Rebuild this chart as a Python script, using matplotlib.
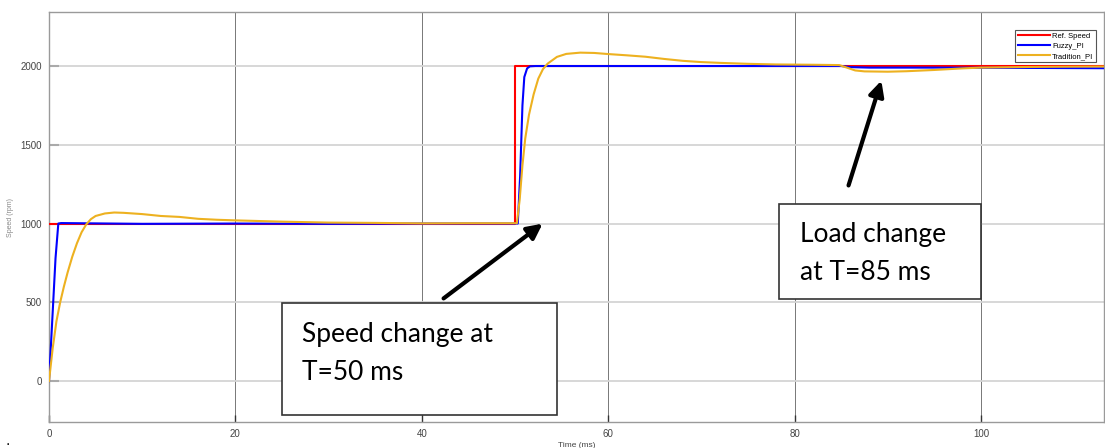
import matplotlib
matplotlib.use("Agg")
import matplotlib.pyplot as plt
from matplotlib.patches import Rectangle

# reference speed (rpm) vs time (ms)
ref_t = [0, 49.97, 49.97, 113.5]
ref_v = [1000, 1000, 2000, 2000]

# fuzzy PI response
fuzzy_t = [0, 0.3, 0.7, 1.0, 1.3, 10, 20, 30, 40, 50.3, 50.55, 50.8, 51.0, 51.3, 51.6, 52.2,
           60, 70, 80, 85, 86, 88, 95, 105, 113.5]
fuzzy_v = [0, 330, 780, 1000, 1003, 998, 1000, 998, 1000, 1000, 1300, 1750, 1930, 1985, 1998, 2000,
           2000, 2000, 2000, 2000, 1993, 1990, 1990, 1988, 1986]

# traditional PI response
trad_t = [0, 0.4, 0.8, 1.2, 1.6, 2.0, 2.5, 3.0, 3.5, 4.0, 4.5, 5.0, 6.0, 7.0, 8.0, 10, 12, 14,
          16, 18, 20, 25, 30, 35, 40, 45, 50.2,
          50.5, 50.8, 51.1, 51.5, 52.0, 52.5, 53.0, 53.5, 54.5, 55.5, 57, 58.5, 60, 62, 64, 66,
          68, 70, 72, 75, 78, 82, 84.8, 85.6, 86.5, 87.5, 90, 92, 95, 98, 100, 105, 110, 113.5]
trad_v = [0, 210, 380, 500, 600, 690, 790, 875, 945, 995, 1028, 1048, 1064, 1070, 1068, 1060,
          1048, 1042, 1030, 1024, 1020, 1012, 1006, 1004, 1001, 1002, 1002,
          1150, 1370, 1540, 1690, 1820, 1920, 1980, 2015, 2058, 2077, 2085, 2083, 2076, 2068,
          2059, 2045, 2033, 2025, 2020, 2014, 2010, 2008, 2006, 1990, 1972, 1966, 1964, 1967,
          1975, 1985, 1990, 1994, 1996, 1997]

x_ticks = [0, 20, 40, 60, 80, 100]
y_ticks = [0, 500, 1000, 1500, 2000]

fig = plt.figure(figsize=(11.05, 4.48), dpi=100)
ax = fig.add_axes([49 / 1105, 26 / 448, 1055 / 1105, 410 / 448])

ax.plot(ref_t, ref_v, color="#FF0000", lw=1.5, label="Ref. Speed", zorder=3)
ax.plot(fuzzy_t, fuzzy_v, color="#0000FF", lw=1.5, label="Fuzzy_PI", zorder=4)
ax.plot(trad_t, trad_v, color="#EDB120", lw=1.5, label="Tradition_PI", zorder=5)

ax.set_xlim(0, 113.2)
ax.set_ylim(-260, 2343)
ax.set_xticks(x_ticks)
ax.set_yticks(y_ticks)
ax.tick_params(labelsize=7, colors="#444444", direction="in")
ax.tick_params(axis="y", length=7, width=1.5, color="#aaaaaa", pad=5)
ax.tick_params(axis="x", length=5, width=1.0, color="#333333", pad=5)
for lab in ax.get_xticklabels() + ax.get_yticklabels():
    lab.set_family("Liberation Sans")

ax.xaxis.grid(True, color="#777777", lw=0.7)
ax.yaxis.grid(True, color="#d4d4d4", lw=1.3)
ax.set_axisbelow(True)
for s in ax.spines.values():
    s.set_color("#9a9a9a")
    s.set_linewidth(1.0)

ax.set_xlabel("Time (ms)", fontsize=6, color="#444444", family="Liberation Sans", labelpad=2)
ax.set_ylabel("Speed (rpm)", fontsize=5, color="#888888", family="Liberation Sans", labelpad=5)

leg = ax.legend(loc="upper right", bbox_to_anchor=(0.996, 0.966),
                handlelength=4.2, handletextpad=0.3, borderpad=0.35, labelspacing=0.35,
                fancybox=False, framealpha=1, edgecolor="#555555", prop={"family": "Liberation Sans", "size": 5.5})
leg.get_frame().set_linewidth(0.8)
leg.set_zorder(10)

# annotation boxes
ax.add_patch(Rectangle((25.0, -216), 29.5, 711, facecolor="white", edgecolor="#333333", lw=1.2, zorder=8))
ax.add_patch(Rectangle((78.3, 521), 21.7, 603, facecolor="white", edgecolor="#333333", lw=1.2, zorder=8))
txt = dict(fontsize=19, family="Lato", color="black", va="baseline", ha="left", zorder=9)
ax.text(27.1, 248, "Speed change at", **txt)
ax.text(27.1, 6, "T=50 ms", **txt)
ax.text(80.6, 882, "Load change", **txt)
ax.text(80.6, 641, "at T=85 ms", **txt)

arrow = dict(arrowstyle="-|>,head_length=0.9,head_width=0.45", color="black", lw=3)
ax.annotate("", xy=(53.2, 1010), xytext=(42.1, 514), arrowprops=arrow, zorder=9)
ax.annotate("", xy=(89.4, 1924), xytext=(85.7, 1225), arrowprops=arrow, zorder=9)

fig.text(8 / 1105, 1 - 441 / 448, ".", fontsize=10, color="black", ha="center", va="center")

fig.savefig("out.png", dpi=100)
